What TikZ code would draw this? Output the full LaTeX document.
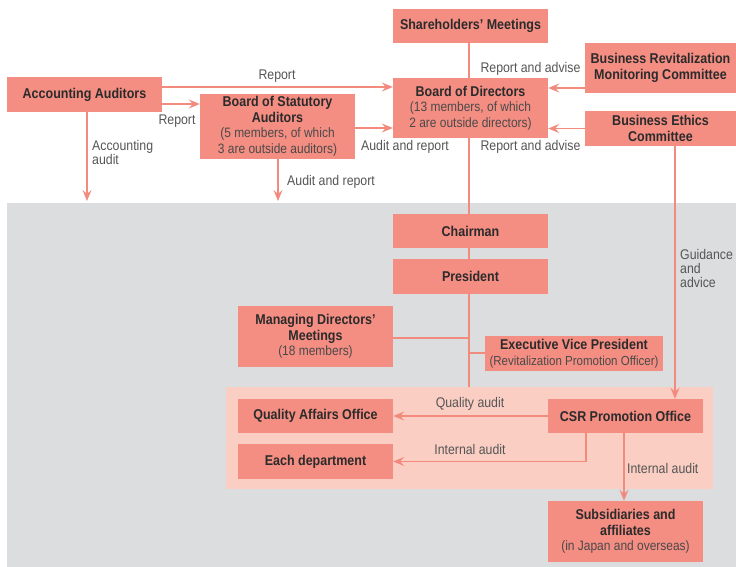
\documentclass[tikz,border=0pt]{standalone}
\usepackage{fontspec}
\setmainfont[FakeStretch=0.88]{Liberation Sans}
\usetikzlibrary{arrows.meta}
\pgfdeclarelayer{back}
\pgfdeclarelayer{mid}
\pgfsetlayers{back,mid,main}
\definecolor{boxc}{HTML}{F48D82}
\definecolor{pinkc}{HTML}{FACEC3}
\definecolor{grayc}{HTML}{DCDDDF}
\definecolor{linec}{HTML}{F28A7E}
\definecolor{txtc}{HTML}{2B2B2B}
\definecolor{subc}{HTML}{4A4A4A}
\definecolor{labc}{HTML}{555555}
\newcommand\subt[1]{{\mdseries\color{subc}\fontsize{13.6}{15}\selectfont#1}}
\newcommand\subs[1]{{\mdseries\color{subc}\fontsize{13.1}{15}\selectfont#1}}
\begin{document}
\begin{tikzpicture}[x=1pt,y=-1pt,
  box/.style={fill=boxc, draw=none, text=txtc, align=center, inner sep=0pt,
    font=\fontsize{14.2}{15.5}\selectfont\bfseries},
  lab/.style={inner sep=0pt, text=labc, align=left, font=\fontsize{14}{14}\selectfont},
  ln/.style={draw=linec, line width=1.5pt},
  arr/.style={ln, -{Stealth[length=11pt,width=9pt,inset=4pt]}}]
\useasboundingbox (0,0) rectangle (736,567);
\begin{pgfonlayer}{back}
  \fill[grayc] (7,203) rectangle (736,567);
  \fill[pinkc] (226,387) rectangle (713,489);
\end{pgfonlayer}
% boxes
\node[box, minimum width=155, minimum height=34] (sh) at (470.5,26) {Shareholders' Meetings};
\node[box, minimum width=155, minimum height=60] (bd) at (470.5,108) {Board of Directors\\\subt{(13 members, of which}\\\subt{2 are outside directors)}};
\node[box, minimum width=151, minimum height=50] (brmc) at (660.5,68) {Business Revitalization\\Monitoring Committee};
\node[box, minimum width=151, minimum height=35] (bec) at (660.5,128.5) {Business Ethics\\Committee};
\node[box, minimum width=155, minimum height=35] (aa) at (84.5,94.5) {Accounting Auditors};
\node[box, minimum width=155, minimum height=65] (bsa) at (277.5,126.5) {Board of Statutory\\Auditors\\\subt{(5 members, of which}\\\subt{3 are outside auditors)}};
\node[box, minimum width=155, minimum height=34] (ch) at (470.5,231) {Chairman};
\node[box, minimum width=155, minimum height=35] (pr) at (470.5,276.5) {President};
\node[box, minimum width=155, minimum height=61] (md) at (315.5,336.5) {Managing Directors'\\Meetings\\\subt{(18 members)}};
\node[box, minimum width=178, minimum height=35] (evp) at (574,353.5) {Executive Vice President\\\subs{(Revitalization Promotion Officer)}};
\node[box, minimum width=155, minimum height=34] (qao) at (315.5,416) {Quality Affairs Office};
\node[box, minimum width=155, minimum height=35] (ed) at (315.5,461.5) {Each department};
\node[box, minimum width=155, minimum height=34] (csr) at (625.5,416) {CSR Promotion Office};
\node[box, minimum width=155, minimum height=61] (sub) at (625.5,531.5) {Subsidiaries and\\affiliates\\\subt{(in Japan and overseas)}};
% helper coordinates
\coordinate (gtop) at (0,201);
\coordinate (trunkend) at (469,387);
\coordinate (aaR1) at ([yshift=7.5pt]aa.east);
\coordinate (aaR2) at ([yshift=-9.5pt]aa.east);
\coordinate (bsaR) at ([yshift=-1.5pt]bsa.east);
\coordinate (aaS) at ([xshift=2.5pt]aa.south);
\coordinate (bsaS) at ([xshift=0.5pt]bsa.south);
\coordinate (brmcL) at ([yshift=-20pt]brmc.west);
\coordinate (becS) at ([xshift=14.5pt]bec.south);
\coordinate (csrS2) at ([xshift=-39.5pt]csr.south);
\coordinate (csrS3) at ([xshift=-1.5pt]csr.south);
\coordinate (shS) at ([xshift=-1.5pt]sh.south);
\coordinate (evpL) at ([yshift=0.5pt]evp.west);
\begin{pgfonlayer}{mid}
  \draw[ln] (shS) -- (shS |- trunkend);
  \draw[ln] ([yshift=-1.5pt]md.east) -- ([yshift=-1.5pt]md.east -| trunkend);
  \draw[ln] (evpL) -- (evpL -| trunkend);
  \draw[arr] (aaR1) -- (aaR1 -| bd.west);
  \draw[arr] (aaR2) -- (aaR2 -| bsa.west);
  \draw[arr] (bsaR) -- (bsaR -| bd.west);
  \draw[arr] (aaS) -- (aaS |- gtop);
  \draw[arr] (bsaS) -- (bsaS |- gtop);
  \draw[arr] (brmcL) -- (brmcL -| bd.east);
  \draw[arr] (bec.west) -- (bec.west -| bd.east);
  \draw[arr] (becS) -- (becS |- csr.north);
  \draw[arr] (csr.west) -- (qao.east);
  \draw[arr] (csrS2) |- (ed.east);
  \draw[arr] (csrS3) -- (csrS3 |- sub.north);
\end{pgfonlayer}
% labels
\node[lab] (l1) at (277,76) {Report};
\node[lab] (l2) at (177,121) {Report};
\node[lab, anchor=west] (l3) at (92,152) {Accounting\\audit};
\node[lab, anchor=west] (l4) at (287,182) {Audit and report};
\node[lab] (l5) at (405,147) {Audit and report};
\node[lab] (l6) at (530.5,69) {Report and advise};
\node[lab] (l7) at (530.5,147) {Report and advise};
\node[lab, anchor=west] (l8) at (680,268) {Guidance\\and\\advice};
\node[lab] (l9) at (470,404) {Quality audit};
\node[lab] (l10) at (470,449) {Internal audit};
\node[lab, anchor=west] (l11) at (627,468) {Internal audit};
\end{tikzpicture}
\end{document}
